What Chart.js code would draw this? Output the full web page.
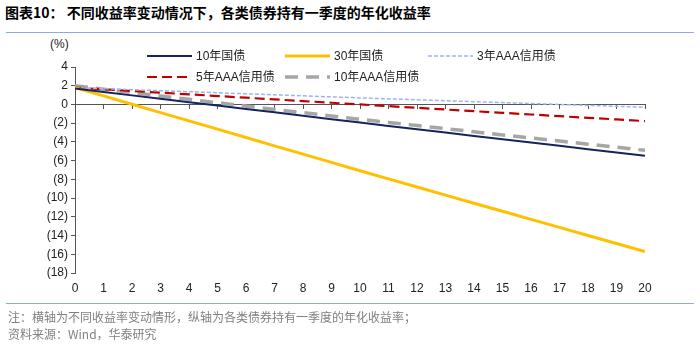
<!DOCTYPE html>
<html>
<head>
<meta charset="utf-8">
<script src="https://cdn.jsdelivr.net/npm/chart.js@4.4.1/dist/chart.umd.min.js"></script>
<style>
  body { margin: 0; background: #fff; width: 700px; height: 345px; position: relative; overflow: hidden; }
  .title { position: absolute; left: 5px; top: 2px; font: bold 14px "Noto Sans CJK SC", sans-serif; color: #000; white-space: nowrap; }
  .rule { position: absolute; left: 6px; width: 688px; height: 0; border-top: 1.5px solid #8eaadb; }
  .unit { position: absolute; left: 50px; top: 37px; font: 12px "Liberation Sans", sans-serif; color: #222; }
  .note { position: absolute; left: 8px; font: 12px "Noto Sans CJK SC", sans-serif; color: #808080; white-space: nowrap; }
  canvas { position: absolute; left: 0; top: 0; }
</style>
</head>
<body>
<div class="title">图表10：&nbsp;不同收益率变动情况下，各类债券持有一季度的年化收益率</div>
<div class="rule" style="top:32px"></div>
<div class="unit">(%)</div>
<canvas id="c" width="700" height="345"></canvas>
<div class="rule" style="top:303px"></div>
<div class="note" style="top:308px">注：横轴为不同收益率变动情形，纵轴为各类债券持有一季度的年化收益率；</div>
<div class="note" style="top:325px">资料来源：Wind，华泰研究</div>

<script>
// x: yield change scenarios
const xValues = [0, 1, 2, 3, 4, 5, 6, 7, 8, 9, 10, 11, 12, 13, 14, 15, 16, 17, 18, 19, 20];

// annualized return (%) after holding one quarter
const gov10y = [1.70, 1.33, 0.97, 0.61, 0.24, -0.12, -0.48, -0.84, -1.20, -1.57, -1.93, -2.29, -2.64, -3.00, -3.36, -3.71, -4.07, -4.42, -4.78, -5.13, -5.48];
const gov30y = [1.80, 0.91, 0.02, -0.87, -1.76, -2.64, -3.53, -4.42, -5.31, -6.19, -7.08, -7.95, -8.82, -9.68, -10.55, -11.41, -12.27, -13.13, -13.99, -14.85, -15.70];
const aaa3y = [1.80, 1.69, 1.58, 1.47, 1.36, 1.25, 1.14, 1.03, 0.92, 0.81, 0.70, 0.60, 0.50, 0.40, 0.30, 0.20, 0.10, 0.00, -0.10, -0.20, -0.30];
const aaa5y = [1.80, 1.62, 1.44, 1.26, 1.08, 0.90, 0.72, 0.54, 0.36, 0.18, 0.00, -0.18, -0.36, -0.54, -0.72, -0.89, -1.07, -1.25, -1.43, -1.60, -1.78];
const aaa10y = [2.00, 1.63, 1.27, 0.91, 0.55, 0.19, -0.17, -0.53, -0.88, -1.23, -1.58, -1.92, -2.25, -2.58, -2.92, -3.25, -3.58, -3.91, -4.24, -4.57, -4.90];

const seriesNames = ['10年国债', '30年国债', '3年AAA信用债', '5年AAA信用债', '10年AAA信用债'];

const pts = arr => xValues.map((x, i) => ({ x: x, y: arr[i] }));

// legend drawn inside the plot, two rows like the original
const legendSlots = [
  { x: 147, y: 56 }, { x: 285, y: 56 }, { x: 428, y: 56 },
  { x: 147, y: 77 }, { x: 285, y: 77 }
];

const innerLegend = {
  id: 'innerLegend',
  afterDraw(chart) {
    const ctx = chart.ctx;
    ctx.save();
    chart.data.datasets.forEach((ds, i) => {
      const s = legendSlots[i];
      ctx.beginPath();
      ctx.strokeStyle = ds.borderColor;
      ctx.lineWidth = ds.borderWidth;
      ctx.setLineDash(ds.borderDash || []);
      ctx.moveTo(s.x, s.y);
      ctx.lineTo(s.x + 45, s.y);
      ctx.stroke();
      ctx.setLineDash([]);
      ctx.fillStyle = '#222';
      ctx.font = '12px "Liberation Sans", "Noto Sans CJK SC", sans-serif';
      ctx.textBaseline = 'middle';
      ctx.fillText(ds.label, s.x + 49, s.y + 1);
    });
    ctx.restore();
  }
};

const tickFont = { family: '"Liberation Sans", sans-serif', size: 12 };

new Chart(document.getElementById('c'), {
  type: 'line',
  data: {
    datasets: [
      { label: seriesNames[0], data: pts(gov10y), borderColor: '#14245c', borderWidth: 2 },
      { label: seriesNames[1], data: pts(gov30y), borderColor: '#ffc000', borderWidth: 3 },
      { label: seriesNames[2], data: pts(aaa3y), borderColor: '#9db5ea', borderWidth: 1.5, borderDash: [4, 2] },
      { label: seriesNames[3], data: pts(aaa5y), borderColor: '#c00000', borderWidth: 2.2, borderDash: [10, 5] },
      { label: seriesNames[4], data: pts(aaa10y), borderColor: '#a6a6a6', borderWidth: 3.5, borderDash: [13, 8] }
    ]
  },
  options: {
    responsive: false,
    animation: false,
    devicePixelRatio: 1,
    elements: { point: { radius: 0 }, line: { tension: 0 } },
    layout: { padding: { top: 67, left: 0, right: 55, bottom: 42 } },
    plugins: { legend: { display: false }, tooltip: { enabled: false } },
    scales: {
      x: {
        type: 'linear', min: 0, max: 20,
        ticks: { stepSize: 1, color: '#222', font: tickFont, padding: 8, maxRotation: 0 },
        grid: { display: false, drawTicks: false },
        border: { display: false },
        afterFit: s => { s.height = 30; }
      },
      xz: {
        type: 'linear', axis: 'x', position: { y: 0 }, min: 0, max: 20,
        ticks: { stepSize: 1, display: false },
        grid: { drawOnChartArea: false, tickLength: 4, color: '#555' },
        border: { color: '#555', width: 1 }
      },
      y: {
        min: -18, max: 4,
        ticks: {
          stepSize: 2, color: '#222', font: tickFont, padding: 3,
          callback: v => v < 0 ? '(' + (-v) + ')' : String(v)
        },
        grid: { drawOnChartArea: false, tickLength: 4, color: '#555' },
        border: { color: '#555', width: 1 },
        afterFit: s => { s.width = 75; }
      }
    }
  },
  plugins: [innerLegend]
});
</script>
</body>
</html>
